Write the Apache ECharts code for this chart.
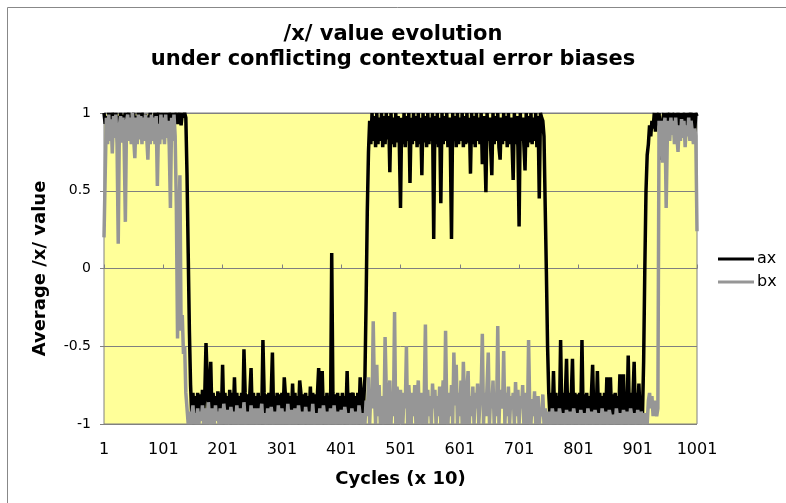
<!DOCTYPE html>
<html>
<head>
<meta charset="utf-8">
<script src="https://cdn.jsdelivr.net/npm/echarts@6/dist/echarts.min.js"></script>
<style>
  html, body { margin: 0; padding: 0; background: #fff; }
  #chart { width: 786px; height: 503px; }
</style>
</head>
<body>
<div id="chart"></div>
<script>
// cycles (x 10) sampled every 2, 1 .. 1001
const cycles = Array.from({ length: 501 }, (_, i) => String(1 + i * 2))

const yTicks = [-1, -0.5, 0, 0.5, 1]

// ax (one row = 20 cycles)
const ax = [
    1, 0.93, 0.98, 0.9, 1, 0.95, 0.91, 1, 0.97, 0.92,
    1, 0.9, 0.98, 0.94, 1, 0.91, 0.99, 0.95, 1, 0.92,
    0.97, 1, 0.92, 0.98, 0.9, 1, 0.94, 0.98, 0.91, 1,
    0.95, 0.92, 1, 0.97, 0.9, 0.99, 1, 0.93, 0.96, 1,
    0.91, 0.98, 0.94, 1, 0.9, 0.97, 1, 0.94, 0.92, 1,
    0.96, 0.92, 1, 0.95, 0.9, 1, 0.98, 0.94, 1, 0.92,
    0.98, 1, 0.93, 0.97, 1, 0.92, 1, 0.97, 1, 0.97,
    0.6, 0.1, -0.4, -0.75, -0.95, -0.8, -0.94, -0.82, -0.95, -0.8,
    -0.94, -0.81, -0.95, -0.78, -0.93, -0.8, -0.48, -0.7, -0.95, -0.8,
    -0.6, -0.94, -0.8, -0.95, -0.82, -0.93, -0.79, -0.95, -0.8, -0.94,
    -0.62, -0.95, -0.8, -0.93, -0.82, -0.95, -0.78, -0.94, -0.8, -0.95,
    -0.7, -0.94, -0.8, -0.95, -0.82, -0.93, -0.8, -0.95, -0.52, -0.8,
    -0.94, -0.81, -0.95, -0.8, -0.64, -0.94, -0.8, -0.95, -0.82, -0.93,
    -0.8, -0.95, -0.82, -0.94, -0.46, -0.8, -0.95, -0.81, -0.94, -0.8,
    -0.95, -0.8, -0.54, -0.94, -0.82, -0.95, -0.8, -0.93, -0.81, -0.95,
    -0.8, -0.94, -0.7, -0.82, -0.95, -0.8, -0.94, -0.82, -0.95, -0.74,
    -0.94, -0.8, -0.95, -0.82, -0.93, -0.72, -0.8, -0.95, -0.81, -0.94,
    -0.8, -0.95, -0.82, -0.94, -0.76, -0.95, -0.8, -0.94, -0.81, -0.95,
    -0.8, -0.64, -0.94, -0.8, -0.66, -0.95, -0.82, -0.94, -0.8, -0.95,
    -0.82, -0.94, 0.1, -0.8, -0.95, -0.81, -0.94, -0.8, -0.95, -0.82,
    -0.94, -0.8, -0.95, -0.82, -0.93, -0.66, -0.95, -0.8, -0.94, -0.82,
    -0.8, -0.95, -0.82, -0.94, -0.8, -0.95, -0.7, -0.82, -0.94, -0.85,
    -0.7, -0.21, 0.37, 0.75, 0.95, 0.8, 1, 0.82, 0.98, 0.78,
    1, 0.8, 0.97, 0.82, 1, 0.78, 0.98, 0.8, 1, 0.83,
    0.98, 0.62, 1, 0.8, 0.97, 0.78, 1, 0.81, 0.98, 0.8,
    0.39, 0.97, 0.8, 1, 0.78, 0.98, 0.82, 1, 0.55, 0.97,
    0.8, 1, 0.82, 0.98, 0.78, 1, 0.8, 0.97, 0.6, 1,
    0.81, 0.98, 0.78, 1, 0.8, 0.97, 0.82, 1, 0.19, 0.98,
    0.8, 1, 0.78, 0.97, 0.42, 1, 0.8, 0.98, 0.82, 1,
    0.78, 0.97, 0.8, 0.19, 1, 0.82, 0.98, 0.78, 1, 0.8,
    0.97, 0.82, 1, 0.78, 0.98, 0.8, 1, 0.81, 0.97, 0.61,
    1, 0.8, 0.98, 0.78, 1, 0.82, 0.97, 0.8, 1, 0.67,
    0.98, 0.8, 0.49, 1, 0.82, 0.97, 0.78, 0.6, 1, 0.8,
    0.98, 0.82, 1, 0.78, 0.7, 0.97, 0.8, 1, 0.82, 0.98,
    0.78, 1, 0.8, 0.97, 0.82, 0.57, 1, 0.8, 0.98, 0.78,
    0.27, 1, 0.82, 0.97, 0.8, 0.63, 1, 0.78, 0.98, 0.81,
    1, 0.8, 0.97, 0.82, 1, 0.78, 0.98, 0.45, 1, 0.97,
    0.95, 0.85, 0.4, -0.02, -0.5, -0.8, -0.95, -0.8, -0.94, -0.66,
    -0.95, -0.8, -0.94, -0.82, -0.95, -0.46, -0.94, -0.8, -0.95, -0.81,
    -0.58, -0.94, -0.8, -0.95, -0.82, -0.58, -0.94, -0.8, -0.95, -0.81,
    -0.94, -0.8, -0.95, -0.46, -0.94, -0.81, -0.95, -0.8, -0.94, -0.82,
    -0.95, -0.8, -0.62, -0.94, -0.81, -0.95, -0.66, -0.94, -0.8, -0.95,
    -0.82, -0.94, -0.8, -0.95, -0.7, -0.93, -0.8, -0.7, -0.95, -0.81,
    -0.94, -0.8, -0.95, -0.82, -0.94, -0.68, -0.95, -0.8, -0.68, -0.94,
    -0.81, -0.95, -0.56, -0.94, -0.8, -0.95, -0.82, -0.6, -0.94, -0.8,
    -0.95, -0.74, -0.94, -0.82, -0.95, -0.6, 0, 0.5, 0.73, 0.8,
    0.92, 0.85, 0.95, 0.9, 1, 0.88, 1, 0.92, 1, 0.86,
    0.7, 0.95, 1, 0.88, 1, 0.9, 0.97, 1, 0.86, 1,
    0.92, 1, 0.88, 0.96, 1, 0.9, 1, 0.85, 1, 0.94,
    1, 0.88, 1, 0.92, 0.97, 1, 0.9, 1, 0.87, 1,
    0.98
]

// bx (one row = 20 cycles)
const bx = [
    0.2, 0.6, 0.97, 0.8, 0.99, 0.82, 0.96, 0.74, 0.98, 0.84,
    0.99, 0.8, 0.16, 0.92, 0.98, 0.81, 0.97, 0.8, 0.3, 0.95,
    0.99, 0.82, 0.97, 0.8, 1, 0.84, 0.71, 0.97, 0.8, 0.99,
    0.83, 0.98, 0.8, 0.97, 0.82, 0.99, 0.85, 0.7, 0.97, 0.8,
    0.99, 0.82, 0.97, 0.8, 0.98, 0.53, 0.93, 0.8, 0.99, 0.83,
    0.97, 0.8, 0.99, 0.84, 0.95, 0.79, 0.39, 0.97, 0.82, 0.99,
    0.85, 0.4, -0.45, 0.2, 0.6, -0.4, -0.3, -0.55, -0.5, -0.8,
    -0.9, -1, -0.92, -1, -0.95, -0.88, -1, -0.93, -1, -0.9,
    -1, -0.92, -0.98, -0.88, -1, -0.94, -0.9, -1, -0.86, -0.97,
    -1, -0.9, -0.95, -1, -0.88, -0.98, -0.92, -1, -0.9, -0.96,
    -1, -0.87, -0.95, -1, -0.91, -0.98, -1, -0.89, -0.96, -1,
    -0.92, -1, -0.88, -0.97, -1, -0.9, -0.95, -1, -0.86, -0.98,
    -1, -0.92, -0.96, -1, -0.88, -1, -0.94, -0.9, -1, -0.97,
    -0.9, -1, -0.95, -0.87, -1, -0.93, -0.98, -1, -0.9, -0.96,
    -1, -0.89, -0.97, -1, -0.92, -0.95, -1, -0.88, -1, -0.94,
    -0.9, -1, -0.96, -0.92, -1, -0.87, -0.98, -1, -0.91, -0.95,
    -1, -0.9, -0.97, -1, -0.88, -0.95, -1, -0.92, -0.98, -1,
    -0.89, -0.96, -1, -0.92, -0.95, -1, -0.87, -0.98, -1, -0.93,
    -0.96, -1, -0.9, -0.97, -1, -0.88, -0.95, -1, -0.92, -0.98,
    -1, -0.9, -0.95, -1, -0.88, -0.97, -1, -0.92, -0.96, -1,
    -0.91, -0.98, -1, -0.89, -0.95, -1, -0.93, -0.97, -1, -0.9,
    -0.96, -1, -0.92, -0.98, -1, -0.88, -0.95, -1, -0.93, -0.97,
    -1, -0.85, -0.95, -0.7, -1, -0.78, -0.9, -0.34, -0.8, -1,
    -0.62, -0.95, -0.75, -1, -0.82, -0.9, -1, -0.44, -0.78, -1,
    -0.85, -0.72, -1, -0.8, -0.95, -0.28, -1, -0.76, -0.82, -1,
    -0.78, -0.95, -1, -0.8, -0.9, -0.5, -1, -0.75, -0.88, -1,
    -0.8, -0.95, -0.75, -1, -0.85, -0.72, -1, -0.9, -0.8, -1,
    -0.84, -0.36, -1, -0.78, -0.95, -0.82, -1, -0.74, -0.9, -0.78,
    -1, -0.82, -0.95, -0.76, -1, -0.85, -0.72, -1, -0.4, -0.9,
    -1, -0.8, -0.95, -0.75, -1, -0.54, -0.88, -0.62, -1, -0.8,
    -0.95, -0.72, -1, -0.6, -0.85, -1, -0.78, -0.66, -1, -0.82,
    -0.95, -0.76, -1, -0.8, -0.9, -0.74, -1, -0.85, -0.78, -0.42,
    -1, -0.8, -0.95, -0.75, -0.54, -1, -0.82, -0.9, -0.72, -1,
    -0.8, -0.95, -0.37, -1, -0.78, -0.85, -0.9, -0.53, -1, -0.8,
    -0.95, -0.76, -1, -0.82, -0.9, -0.8, -1, -0.73, -0.95, -0.78,
    -1, -0.82, -0.9, -0.75, -1, -0.85, -0.8, -1, -0.46, -0.9,
    -1, -0.84, -0.95, -0.79, -1, -0.88, -0.82, -1, -0.9, -0.95,
    -0.81, -1, -0.9, -0.95, -1, -0.92, -0.97, -1, -0.9, -0.96,
    -1, -0.92, -0.97, -1, -0.9, -0.95, -1, -0.93, -0.98, -1,
    -0.91, -0.96, -1, -0.92, -0.98, -1, -0.9, -0.95, -1, -0.93,
    -0.97, -1, -0.91, -0.96, -1, -0.93, -0.98, -1, -0.9, -0.95,
    -1, -0.92, -0.97, -1, -0.91, -0.95, -1, -0.93, -0.98, -1,
    -0.9, -0.96, -1, -0.92, -0.97, -1, -0.91, -0.95, -1, -0.94,
    -0.98, -1, -0.9, -0.96, -1, -0.93, -0.97, -1, -0.91, -0.95,
    -1, -0.92, -0.98, -1, -0.9, -0.95, -1, -0.93, -0.97, -1,
    -0.91, -0.96, -1, -0.92, -0.98, -1, -0.93, -0.97, -1, -0.85,
    -0.8, -0.9, -0.82, -0.95, -0.85, -0.9, -0.95, -0.9, 0.95, 0.85,
    0.95, 0.68, 0.9, 0.97, 0.39, 0.85, 0.95, 0.82, 0.97, 0.86,
    0.95, 0.8, 0.97, 0.85, 0.75, 0.92, 0.82, 0.96, 0.84, 0.95,
    0.78, 0.92, 0.85, 0.97, 0.82, 0.95, 0.88, 0.8, 0.9, 0.85,
    0.24
]

const chart = echarts.init(document.getElementById('chart'))
const font = 'DejaVu Sans'
const grey = '#808080'

const option = {
    animation: false,
    backgroundColor: '#fff',
    textStyle: { fontFamily: font },
    title: {
        text: '/x/ value evolution\nunder conflicting contextual error biases',
        left: 'center',
        top: 17,
        textStyle: { fontFamily: font, fontSize: 21, fontWeight: 'bold', lineHeight: 25, color: '#000' }
    },
    legend: {
        data: ['ax', 'bx'],
        orient: 'vertical',
        left: 718,
        top: 251,
        padding: 0,
        itemGap: 7,
        icon: 'rect',
        itemWidth: 36,
        itemHeight: 3,
        textStyle: { fontFamily: font, fontSize: 16, color: '#000', padding: [0, 0, 0, -2] }
    },
    grid: {
        left: 104, right: 89, top: 113, bottom: 79,
        containLabel: false,
        outerBoundsMode: 'none'
    },
    xAxis: [
        {
            type: 'category',
            data: cycles,
            boundaryGap: false,
            name: 'Cycles (x 10)',
            nameLocation: 'middle',
            nameGap: 46,
            nameTextStyle: { fontFamily: font, fontSize: 18, fontWeight: 'bold', color: '#000' },
            axisLine: { show: false, onZero: false },
            axisTick: { show: false },
            splitLine: { show: false },
            axisLabel: { interval: 49, margin: 18, fontSize: 16, color: '#000', fontFamily: font }
        },
        {
            // axis line crossing at 0, with its ticks
            type: 'category',
            data: cycles,
            boundaryGap: false,
            axisLine: { show: true, onZero: true, lineStyle: { color: grey, width: 1 } },
            axisTick: { show: true, interval: 49, length: 4, lineStyle: { color: grey } },
            axisLabel: { show: false },
            splitLine: { show: false }
        }
    ],
    yAxis: {
        type: 'value',
        min: yTicks[0],
        max: yTicks[yTicks.length - 1],
        interval: 0.5,
        name: 'Average /x/ value',
        nameLocation: 'middle',
        nameGap: 55,
        nameRotate: 90,
        nameTextStyle: { fontFamily: font, fontSize: 18, fontWeight: 'bold', color: '#000' },
        axisLine: { show: false },
        axisTick: { show: true, length: 4, lineStyle: { color: grey } },
        axisLabel: { fontSize: 14, color: '#000', margin: 13, fontFamily: font },
        splitLine: { show: true, lineStyle: { color: grey, width: 1 } }
    },
    graphic: [
        {
            // chart area border
            type: 'rect',
            shape: { x: 7.5, y: 7.5, width: 900, height: 700 },
            style: { fill: 'none', stroke: '#888', lineWidth: 1 },
            silent: true
        },
        {
            // plot area
            type: 'rect',
            z: -1,
            shape: { x: 104, y: 113, width: 593, height: 311 },
            style: { fill: '#FFFF99', stroke: grey, lineWidth: 1 },
            silent: true
        }
    ],
    series: [
        {
            name: 'ax',
            type: 'line',
            data: ax,
            showSymbol: false,
            symbol: 'none',
            lineStyle: { color: '#000', width: 3.5 },
            itemStyle: { color: '#000' }
        },
        {
            name: 'bx',
            type: 'line',
            data: bx,
            showSymbol: false,
            symbol: 'none',
            lineStyle: { color: '#969696', width: 3.5 },
            itemStyle: { color: '#969696' }
        }
    ]
}

chart.setOption(option)
</script>
</body>
</html>
